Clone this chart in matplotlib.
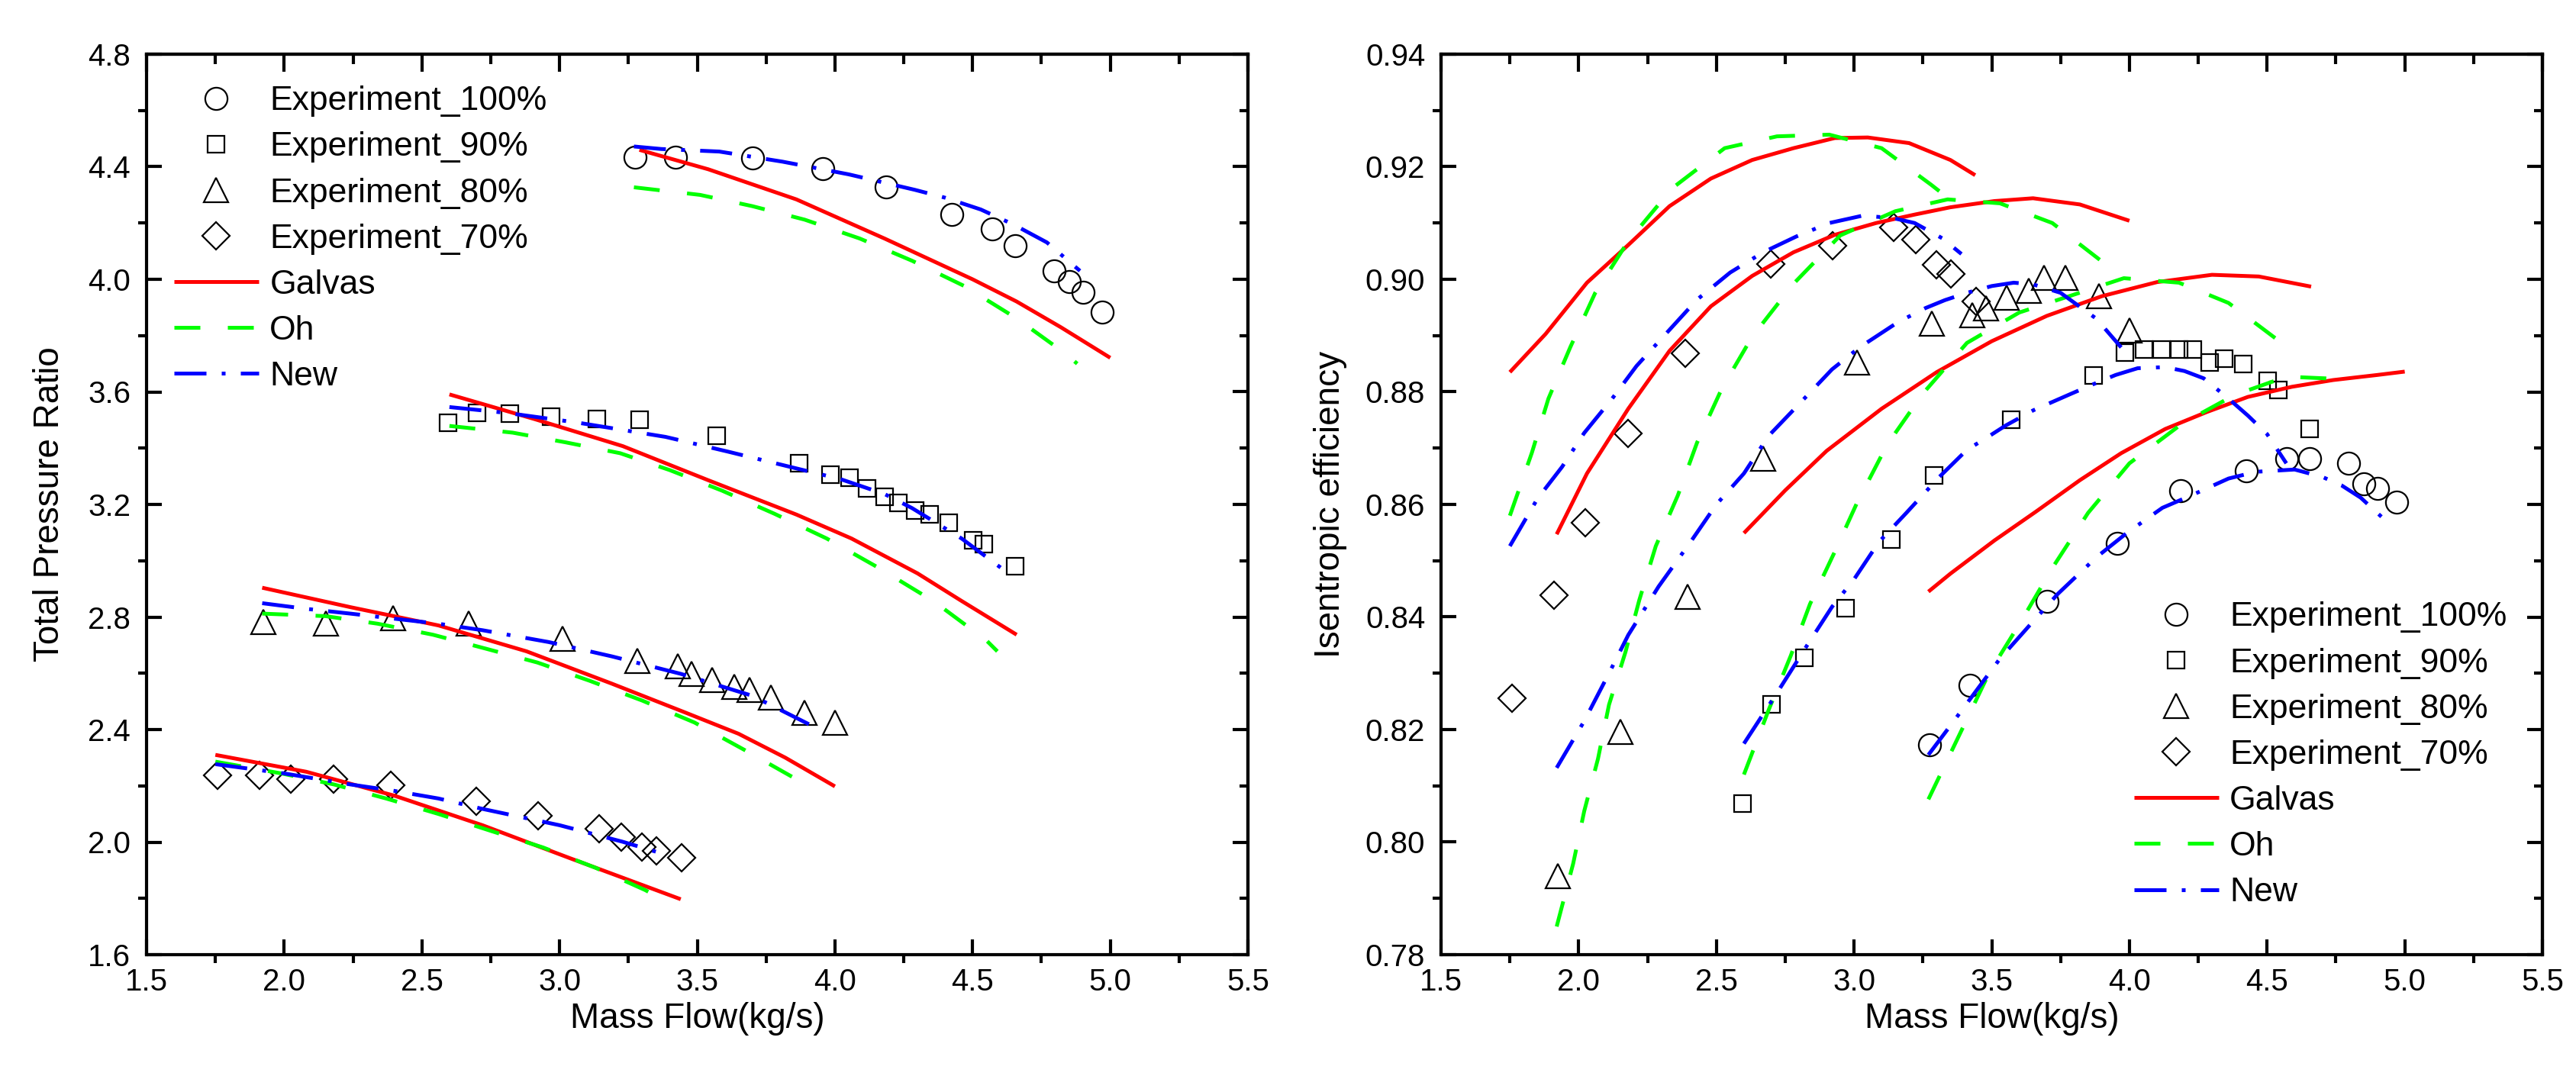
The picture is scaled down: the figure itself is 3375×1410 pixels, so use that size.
import matplotlib
matplotlib.use('Agg')
import matplotlib.pyplot as plt
from matplotlib.ticker import MultipleLocator, FormatStrFormatter

plt.rcParams['font.family'] = ['Liberation Sans', 'DejaVu Sans']

# ---------------- experimental data (shared mass flow per speed line) ----------------
exp100_mf = [3.275, 3.42, 3.70, 3.955, 4.185, 4.425, 4.57, 4.655, 4.795, 4.85, 4.90, 4.97]
exp100_pr = [4.433, 4.433, 4.432, 4.393, 4.329, 4.230, 4.178, 4.118, 4.030, 3.993, 3.954, 3.884]
exp100_eff = [0.8173, 0.8278, 0.8428, 0.8531, 0.8625, 0.8660, 0.8682, 0.8682, 0.8673, 0.8637, 0.8628, 0.8604]

exp90_mf = [2.595, 2.70, 2.82, 2.97, 3.135, 3.29, 3.57, 3.87, 3.985, 4.052, 4.118, 4.18, 4.23,
            4.292, 4.345, 4.413, 4.503, 4.54, 4.655]
exp90_pr = [3.491, 3.525, 3.524, 3.513, 3.503, 3.500, 3.445, 3.346, 3.307, 3.295, 3.258, 3.228,
            3.205, 3.179, 3.165, 3.136, 3.072, 3.059, 2.980]
exp90_eff = [0.8068, 0.8245, 0.8327, 0.8416, 0.8538, 0.8651, 0.8750, 0.8829, 0.8870, 0.8875,
             0.8875, 0.8875, 0.8875, 0.8852, 0.8859, 0.8849, 0.8820, 0.8804, 0.8734]

exp80_mf = [1.925, 2.152, 2.395, 2.671, 3.011, 3.283, 3.428, 3.478, 3.553, 3.634, 3.691, 3.768, 3.89, 3.999]
exp80_pr = [2.783, 2.776, 2.796, 2.776, 2.724, 2.645, 2.625, 2.599, 2.577, 2.553, 2.540, 2.514, 2.461, 2.425]
exp80_eff = [0.7939, 0.8196, 0.8436, 0.8682, 0.8852, 0.8922, 0.8936, 0.8949, 0.8967, 0.8979,
             0.9003, 0.9003, 0.8970, 0.8909]

exp70_mf = [1.757, 1.91, 2.024, 2.18, 2.386, 2.697, 2.923, 3.143, 3.225, 3.30, 3.351, 3.442]
exp70_pr = [2.237, 2.237, 2.224, 2.224, 2.201, 2.144, 2.093, 2.047, 2.018, 1.982, 1.969, 1.944]
exp70_eff = [0.8256, 0.8438, 0.8567, 0.8726, 0.8869, 0.9027, 0.9059, 0.9092, 0.9070, 0.9026, 0.9009, 0.8961]

# ---------------- model curves: total pressure ratio ----------------
galvas100_pr_mf = [3.29, 3.54, 3.86, 4.18, 4.50, 4.66, 4.82, 5.00]
galvas100_pr = [4.460, 4.391, 4.284, 4.145, 4.000, 3.921, 3.830, 3.721]
galvas90_pr_mf = [2.60, 2.91, 3.23, 3.54, 3.86, 4.06, 4.30, 4.46, 4.66]
galvas90_pr = [3.591, 3.503, 3.407, 3.286, 3.164, 3.079, 2.955, 2.857, 2.737]
galvas80_pr_mf = [1.92, 2.24, 2.56, 2.88, 3.19, 3.45, 3.65, 3.82, 4.00]
galvas80_pr = [2.904, 2.835, 2.770, 2.678, 2.563, 2.463, 2.385, 2.300, 2.198]
galvas70_pr_mf = [1.75, 2.08, 2.40, 2.72, 3.04, 3.44]
galvas70_pr = [2.31, 2.25, 2.165, 2.06, 1.942, 1.797]

oh100_pr_mf = [3.27, 3.51, 3.70, 3.89, 4.09, 4.28, 4.47, 4.66, 4.84, 4.88]
oh100_pr = [4.327, 4.300, 4.260, 4.212, 4.145, 4.066, 3.976, 3.861, 3.734, 3.700]
oh90_pr_mf = [2.60, 2.83, 3.02, 3.22, 3.40, 3.59, 3.78, 3.97, 4.16, 4.36, 4.55, 4.59]
oh90_pr = [3.479, 3.455, 3.421, 3.382, 3.322, 3.249, 3.167, 3.079, 2.974, 2.855, 2.717, 2.678]
oh80_pr_mf = [1.92, 2.15, 2.34, 2.54, 2.73, 2.92, 3.11, 3.30, 3.49, 3.68, 3.87, 3.92]
oh80_pr = [2.812, 2.803, 2.776, 2.737, 2.688, 2.638, 2.573, 2.503, 2.425, 2.323, 2.218, 2.198]
oh70_pr_mf = [1.75, 1.99, 2.18, 2.37, 2.56, 2.75, 2.94, 3.13, 3.31, 3.36]
oh70_pr = [2.286, 2.244, 2.205, 2.155, 2.100, 2.040, 1.981, 1.909, 1.830, 1.804]

new100_pr_mf = [3.27, 3.37, 3.58, 3.81, 4.05, 4.29, 4.40, 4.53, 4.65, 4.77, 4.89]
new100_pr = [4.472, 4.463, 4.454, 4.418, 4.373, 4.318, 4.290, 4.248, 4.194, 4.131, 4.030]
new90_pr_mf = [2.60, 2.81, 3.07, 3.385, 3.61, 3.86, 4.02, 4.18, 4.28, 4.46, 4.63]
new90_pr = [3.546, 3.525, 3.490, 3.440, 3.388, 3.328, 3.290, 3.237, 3.187, 3.079, 2.955]
new80_pr_mf = [1.92, 2.08, 2.24, 2.56, 2.72, 2.96, 3.19, 3.44, 3.70, 3.94]
new80_pr = [2.849, 2.829, 2.812, 2.776, 2.753, 2.711, 2.660, 2.598, 2.520, 2.402]
new70_pr_mf = [1.75, 2.00, 2.24, 2.40, 2.56, 2.72, 3.00, 3.23, 3.36]
new70_pr = [2.277, 2.244, 2.205, 2.182, 2.155, 2.118, 2.060, 2.001, 1.963]

# ---------------- model curves: isentropic efficiency ----------------
galvas100_eff_mf = [3.27, 3.35, 3.51, 3.66, 3.82, 3.97, 4.13, 4.28, 4.43, 4.59, 4.74, 4.90, 5.00]
galvas100_eff = [0.8445, 0.8477, 0.8536, 0.8587, 0.8643, 0.8691, 0.8734, 0.8764, 0.8791, 0.8809,
                 0.8821, 0.8830, 0.8836]
galvas90_eff_mf = [2.60, 2.75, 2.90, 3.10, 3.30, 3.50, 3.70, 3.90, 4.10, 4.30, 4.47, 4.66]
galvas90_eff = [0.8549, 0.8625, 0.8695, 0.8770, 0.8835, 0.8890, 0.8935, 0.8970, 0.8995, 0.9008, 0.9005, 0.8987]
galvas80_eff_mf = [1.92, 2.03, 2.18, 2.33, 2.48, 2.63, 2.78, 2.93, 3.08, 3.22, 3.35, 3.51, 3.65, 3.82, 4.00]
galvas80_eff = [0.8547, 0.8655, 0.8770, 0.8873, 0.8952, 0.9006, 0.9048, 0.9079, 0.9100, 0.9115,
                0.9128, 0.9139, 0.9144, 0.9133, 0.9104]
galvas70_eff_mf = [1.75, 1.88, 2.03, 2.18, 2.33, 2.48, 2.63, 2.78, 2.93, 3.05, 3.20, 3.35, 3.44]
galvas70_eff = [0.8835, 0.8903, 0.8994, 0.9061, 0.9130, 0.9179, 0.9212, 0.9233, 0.9251, 0.9252,
                0.9242, 0.9212, 0.9185]

oh100_eff_mf = [3.27, 3.38, 3.49, 3.61, 3.72, 3.85, 4.00, 4.19, 4.38, 4.57, 4.76]
oh100_eff = [0.8076, 0.8188, 0.8300, 0.8395, 0.8487, 0.8585, 0.8673, 0.8743, 0.8794, 0.8827, 0.8823]
oh90_eff_mf = [2.60, 2.69, 2.77, 2.84, 2.93, 3.01, 3.12, 3.25, 3.41, 3.60, 3.80, 3.98, 4.18, 4.36, 4.55, 4.60]
oh90_eff = [0.8120, 0.8235, 0.8331, 0.8423, 0.8516, 0.8602, 0.8706, 0.8797, 0.8887, 0.8941, 0.8973,
            0.9002, 0.8994, 0.8958, 0.8888, 0.8867]
oh80_eff_mf = [1.92, 1.98, 2.02, 2.07, 2.11, 2.17, 2.22, 2.28, 2.36, 2.43, 2.52, 2.63, 2.78, 2.95,
               3.15, 3.34, 3.53, 3.72, 3.91, 3.95]
oh80_eff = [0.7850, 0.7962, 0.8055, 0.8148, 0.8244, 0.8338, 0.8430, 0.8526, 0.8616, 0.8710, 0.8806,
            0.8898, 0.8992, 0.9078, 0.9121, 0.9142, 0.9135, 0.9100, 0.9028, 0.9009]
oh70_eff_mf = [1.75, 1.83, 1.89, 1.97, 2.06, 2.18, 2.34, 2.53, 2.72, 2.91, 3.10, 3.28, 3.34]
oh70_eff = [0.8580, 0.8692, 0.8788, 0.8880, 0.8976, 0.9068, 0.9162, 0.9233, 0.9254, 0.9257, 0.9233,
            0.9168, 0.9145]

new100_eff_mf = [3.27, 3.35, 3.45, 3.53, 3.65, 3.74, 3.88, 3.99, 4.12, 4.22, 4.36, 4.46, 4.60, 4.70,
                 4.77, 4.84, 4.94]
new100_eff = [0.8155, 0.8207, 0.8273, 0.8326, 0.8392, 0.8441, 0.8506, 0.8549, 0.8594, 0.8615, 0.8646,
              0.8658, 0.8662, 0.8649, 0.8634, 0.8612, 0.8567]
new90_eff_mf = [2.60, 2.72, 2.83, 2.92, 3.00, 3.09, 3.19, 3.31, 3.41, 3.48, 3.55, 3.65, 3.72, 3.79,
                3.89, 3.95, 4.03, 4.13, 4.20, 4.27, 4.36, 4.43, 4.50, 4.57]
new90_eff = [0.8175, 0.8265, 0.8350, 0.8418, 0.8467, 0.8533, 0.8585, 0.8649, 0.8697, 0.8718, 0.8740,
             0.8767, 0.8782, 0.8797, 0.8818, 0.8830, 0.8842, 0.8844, 0.8837, 0.8824, 0.8788, 0.8758,
             0.8725, 0.8673]
new80_eff_mf = [1.92, 2.02, 2.11, 2.18, 2.29, 2.41, 2.50, 2.60, 2.69, 2.79, 2.92, 3.02, 3.16, 3.26,
                3.33, 3.41, 3.50, 3.58, 3.65, 3.75, 3.88, 3.97]
new80_eff = [0.8132, 0.8215, 0.8300, 0.8368, 0.8454, 0.8536, 0.8600, 0.8655, 0.8722, 0.8773, 0.8840,
             0.8879, 0.8924, 0.8949, 0.8963, 0.8976, 0.8988, 0.8994, 0.8991, 0.8976, 0.8930, 0.8879]
new70_eff_mf = [1.75, 1.85, 1.94, 2.02, 2.12, 2.21, 2.32, 2.43, 2.55, 2.67, 2.79, 2.91, 3.03, 3.14,
                3.22, 3.32, 3.39]
new70_eff = [0.8526, 0.8610, 0.8667, 0.8727, 0.8787, 0.8846, 0.8905, 0.8964, 0.9012, 0.9048, 0.9076,
             0.9100, 0.9113, 0.9109, 0.9100, 0.9073, 0.9045]

exp_labels = ['Experiment_100%', 'Experiment_90%', 'Experiment_80%', 'Experiment_70%']
model_labels = ['Galvas', 'Oh', 'New']
x_ticks = [1.5, 2.0, 2.5, 3.0, 3.5, 4.0, 4.5, 5.0, 5.5]
pr_ticks = [1.6, 2.0, 2.4, 2.8, 3.2, 3.6, 4.0, 4.4, 4.8]
eff_ticks = [0.78, 0.80, 0.82, 0.84, 0.86, 0.88, 0.90, 0.92, 0.94]

# ---------------- styling ----------------
W, H, DPI = 3375, 1410, 100
RED, GREEN, BLUE = '#ff0000', '#00ff00', '#0000ff'
LW = 3.6
model_styles = [dict(color=RED, lw=LW, ls='-'),
                dict(color=GREEN, lw=LW, dashes=(6.8, 7.2)),
                dict(color=BLUE, lw=LW, dashes=(8.4, 4.0, 1.0, 4.0))]
exp_markers = [dict(marker='o', ms=21), dict(marker='s', ms=16.5),
               dict(marker='^', ms=23), dict(marker='D', ms=18.5)]
TICK_FS, LABEL_FS, LEG_FS = 29, 33, 32
SPINE_W = 3.0
MAJ_LEN, MIN_LEN = 14.5, 8.0

fig = plt.figure(figsize=(W / DPI, H / DPI), dpi=DPI)
axL = fig.add_axes([192 / W, (H - 1251) / H, 1443 / W, 1180 / H])
axR = fig.add_axes([1888 / W, (H - 1251) / H, 1443 / W, 1180 / H])


def draw(ax, exp_x, exp_y, models):
    handles = []
    for (x, y), mk in zip(zip(exp_x, exp_y), exp_markers):
        h, = ax.plot(x, y, ls='none', mfc='none', mec='black', mew=1.6, zorder=2, **mk)
        handles.append(h)
    for group, st in zip(models, model_styles):
        first = None
        for x, y in group:
            h, = ax.plot(x, y, zorder=3, solid_capstyle='butt', dash_capstyle='butt',
                         solid_joinstyle='round', **st)
            if first is None:
                first = h
        handles.append(first)
    return handles


def style(ax, yticks, yminor, yfmt, ylim):
    ax.set_xlim(1.5, 5.5)
    ax.set_ylim(*ylim)
    ax.set_xticks(x_ticks)
    ax.set_yticks(yticks)
    ax.xaxis.set_minor_locator(MultipleLocator(0.25))
    ax.yaxis.set_minor_locator(MultipleLocator(yminor))
    ax.xaxis.set_major_formatter(FormatStrFormatter('%.1f'))
    ax.yaxis.set_major_formatter(FormatStrFormatter(yfmt))
    for s in ax.spines.values():
        s.set_linewidth(SPINE_W)
    ax.tick_params(which='major', direction='in', length=MAJ_LEN, width=SPINE_W,
                   labelsize=TICK_FS, top=False, right=False)
    ax.tick_params(which='minor', direction='out', length=MIN_LEN, width=SPINE_W,
                   top=False, right=False)
    ax.tick_params(axis='x', which='major', pad=12)
    ax.tick_params(axis='y', which='major', pad=15)
    # top and right axes: all ticks inward, no labels
    sx = ax.secondary_xaxis('top')
    sx.set_xticks(x_ticks)
    sx.xaxis.set_minor_locator(MultipleLocator(0.25))
    sx.tick_params(which='both', direction='in', width=SPINE_W, labeltop=False)
    sx.tick_params(which='major', length=MAJ_LEN + 2)
    sx.tick_params(which='minor', length=MIN_LEN + 1)
    sx.spines['top'].set_linewidth(SPINE_W)
    sy = ax.secondary_yaxis('right')
    sy.set_yticks(yticks)
    sy.yaxis.set_minor_locator(MultipleLocator(yminor))
    sy.tick_params(which='both', direction='in', width=SPINE_W, labelright=False)
    sy.tick_params(which='major', length=MAJ_LEN)
    sy.tick_params(which='minor', length=MIN_LEN)
    sy.spines['right'].set_linewidth(SPINE_W)


hL = draw(axL,
          [exp100_mf, exp90_mf, exp80_mf, exp70_mf],
          [exp100_pr, exp90_pr, exp80_pr, exp70_pr],
          [[(galvas100_pr_mf, galvas100_pr), (galvas90_pr_mf, galvas90_pr),
            (galvas80_pr_mf, galvas80_pr), (galvas70_pr_mf, galvas70_pr)],
           [(oh100_pr_mf, oh100_pr), (oh90_pr_mf, oh90_pr),
            (oh80_pr_mf, oh80_pr), (oh70_pr_mf, oh70_pr)],
           [(new100_pr_mf, new100_pr), (new90_pr_mf, new90_pr),
            (new80_pr_mf, new80_pr), (new70_pr_mf, new70_pr)]])
hR = draw(axR,
          [exp100_mf, exp90_mf, exp80_mf, exp70_mf],
          [exp100_eff, exp90_eff, exp80_eff, exp70_eff],
          [[(galvas100_eff_mf, galvas100_eff), (galvas90_eff_mf, galvas90_eff),
            (galvas80_eff_mf, galvas80_eff), (galvas70_eff_mf, galvas70_eff)],
           [(oh100_eff_mf, oh100_eff), (oh90_eff_mf, oh90_eff),
            (oh80_eff_mf, oh80_eff), (oh70_eff_mf, oh70_eff)],
           [(new100_eff_mf, new100_eff), (new90_eff_mf, new90_eff),
            (new80_eff_mf, new80_eff), (new70_eff_mf, new70_eff)]])

style(axL, pr_ticks, 0.2, '%.1f', (1.6, 4.8))
style(axR, eff_ticks, 0.01, '%.2f', (0.78, 0.94))

for ax, lab in ((axL, 'Total Pressure Ratio'), (axR, 'Isentropic efficiency')):
    ax.set_xlabel('Mass Flow(kg/s)', fontsize=LABEL_FS, labelpad=5)
    ax.set_ylabel(lab, fontsize=LABEL_FS)
axL.yaxis.set_label_coords(-0.073, 0.5)
axR.yaxis.set_label_coords(-0.085, 0.5)

labels = exp_labels + model_labels
leg_kw = dict(loc='upper left', frameon=False, fontsize=LEG_FS, handlelength=2.5,
              handletextpad=0.32, labelspacing=0.43, borderpad=0, borderaxespad=0, numpoints=1)
axL.legend(hL, labels, bbox_to_anchor=(0.0249, 0.965), **leg_kw)
axR.legend(hR, labels, bbox_to_anchor=(0.629, 0.392), **leg_kw)

fig.savefig('out.png', dpi=DPI)
